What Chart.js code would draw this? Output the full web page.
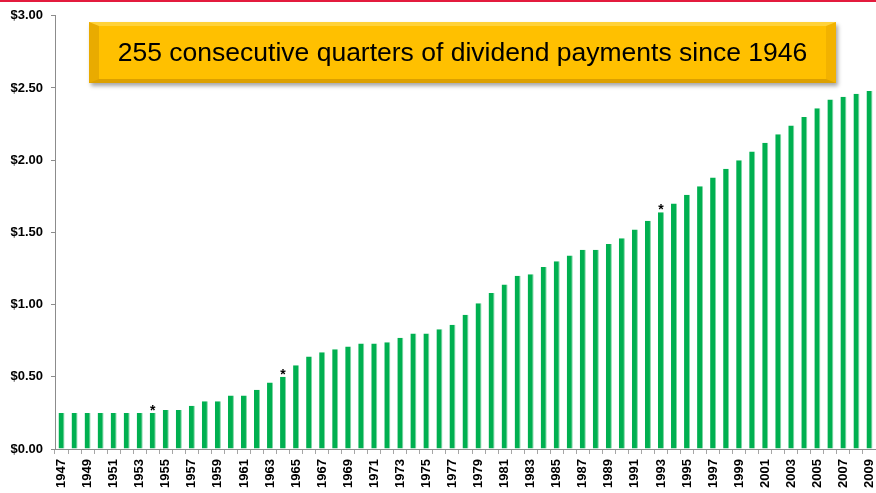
<!DOCTYPE html>
<html>
<head>
<meta charset="utf-8">
<script src="https://cdn.jsdelivr.net/npm/chart.js@4/dist/chart.umd.min.js"></script>
<style>
  html, body { margin: 0; padding: 0; background: #fff; }
  #wrap { position: relative; width: 876px; height: 493px; overflow: hidden; }
  #topRule { position: absolute; left: 0; top: 0; width: 876px; height: 2px; background: #e31b3d; }
  #banner {
    position: absolute; left: 89px; top: 22px; width: 727px; height: 53px;
    background: #ffc000;
    border-style: solid;
    border-width: 4px 10px 4px 10px;
    border-color: #ffd23a #f2b200 #dca000 #e9ab00;
    box-shadow: 2px 3px 4px rgba(0,0,0,0.35);
    font-family: Arial, "Liberation Sans", sans-serif;
    font-size: 26.5px; color: #000;
    display: flex; align-items: center; justify-content: center;
    white-space: nowrap;
  }
  #dividendChart { position: absolute; left: 0; top: 0; }
</style>
</head>
<body>
<div id="wrap">
  <canvas id="dividendChart"></canvas>
  <div id="topRule"></div>
  <div id="banner">255 consecutive quarters of dividend payments since 1946</div>
</div>
<script>
const years = [
  1947, 1948, 1949, 1950, 1951, 1952, 1953, 1954, 1955, 1956,
  1957, 1958, 1959, 1960, 1961, 1962, 1963, 1964, 1965, 1966,
  1967, 1968, 1969, 1970, 1971, 1972, 1973, 1974, 1975, 1976,
  1977, 1978, 1979, 1980, 1981, 1982, 1983, 1984, 1985, 1986,
  1987, 1988, 1989, 1990, 1991, 1992, 1993, 1994, 1995, 1996,
  1997, 1998, 1999, 2000, 2001, 2002, 2003, 2004, 2005, 2006,
  2007, 2008, 2009
];

const dividends = [
  0.25, 0.25, 0.25, 0.25, 0.25, 0.25, 0.25, 0.25, 0.27, 0.27,
  0.30, 0.33, 0.33, 0.37, 0.37, 0.41, 0.46, 0.50, 0.58, 0.64,
  0.67, 0.69, 0.71, 0.73, 0.73, 0.74, 0.77, 0.80, 0.80, 0.83,
  0.86, 0.93, 1.01, 1.08, 1.14, 1.20, 1.21, 1.26, 1.30, 1.34,
  1.38, 1.38, 1.42, 1.46, 1.52, 1.58, 1.64, 1.70, 1.76, 1.82,
  1.88, 1.94, 2.00, 2.06, 2.12, 2.18, 2.24, 2.30, 2.36, 2.42,
  2.44, 2.46, 2.48
];

// years flagged with an asterisk above the bar
const markedYears = [1954, 1964, 1993];

const yTicks = [0, 0.5, 1, 1.5, 2, 2.5, 3];

const asteriskPlugin = {
  id: 'asterisks',
  afterDatasetsDraw(chart) {
    const meta = chart.getDatasetMeta(0);
    const c = chart.ctx;
    c.save();
    c.font = 'bold 14px Arial, "Liberation Sans", sans-serif';
    c.fillStyle = '#000';
    c.textAlign = 'center';
    c.textBaseline = 'alphabetic';
    markedYears.forEach(y => {
      const i = years.indexOf(y);
      if (i < 0) return;
      const bar = meta.data[i];
      c.fillText('*', bar.x, bar.y + 2);
    });
    c.restore();
  }
};

const canvas = document.getElementById('dividendChart');
canvas.width = 876;
canvas.height = 493;
canvas.style.width = '876px';
canvas.style.height = '493px';

const axisFont = { family: 'Arial, "Liberation Sans", sans-serif', size: 13, weight: 'bold' };

new Chart(canvas.getContext('2d'), {
  type: 'bar',
  data: {
    labels: years.map(String),
    datasets: [{
      label: 'Dividend',
      data: dividends,
      backgroundColor: '#00b050',
      borderColor: '#7fd6a4',
      borderWidth: { top: 0, left: 0, bottom: 0, right: 1 },
      borderSkipped: false,
      barPercentage: 0.46,
      categoryPercentage: 1.0
    }]
  },
  options: {
    responsive: false,
    animation: false,
    layout: { padding: { top: 15, left: 0, right: 0, bottom: 0 } },
    plugins: {
      legend: { display: false },
      tooltip: { enabled: false }
    },
    scales: {
      x: {
        afterFit: scale => {
          scale.height = 44;
          scale.paddingLeft = 0;
          scale.paddingRight = 0;
        },
        grid: {
          offset: true,
          drawOnChartArea: false,
          drawTicks: true,
          tickLength: 5,
          color: '#a6a6a6'
        },
        border: { color: '#8c8c8c', width: 1 },
        ticks: {
          autoSkip: false,
          maxRotation: 90,
          minRotation: 90,
          padding: 5,
          color: '#000',
          font: axisFont,
          callback: function (value, index) {
            return index % 2 === 0 ? this.getLabelForValue(value) : '';
          }
        }
      },
      y: {
        min: 0,
        max: 3,
        afterFit: scale => { scale.width = 55; },
        afterBuildTicks: scale => { scale.ticks = yTicks.map(v => ({ value: v })); },
        grid: {
          drawOnChartArea: false,
          drawTicks: true,
          tickLength: 4,
          color: '#8c8c8c'
        },
        border: { color: '#8c8c8c', width: 1 },
        ticks: {
          padding: 8,
          color: '#000',
          font: axisFont,
          callback: v => '$' + v.toFixed(2)
        }
      }
    }
  },
  plugins: [asteriskPlugin]
});
</script>
</body>
</html>
